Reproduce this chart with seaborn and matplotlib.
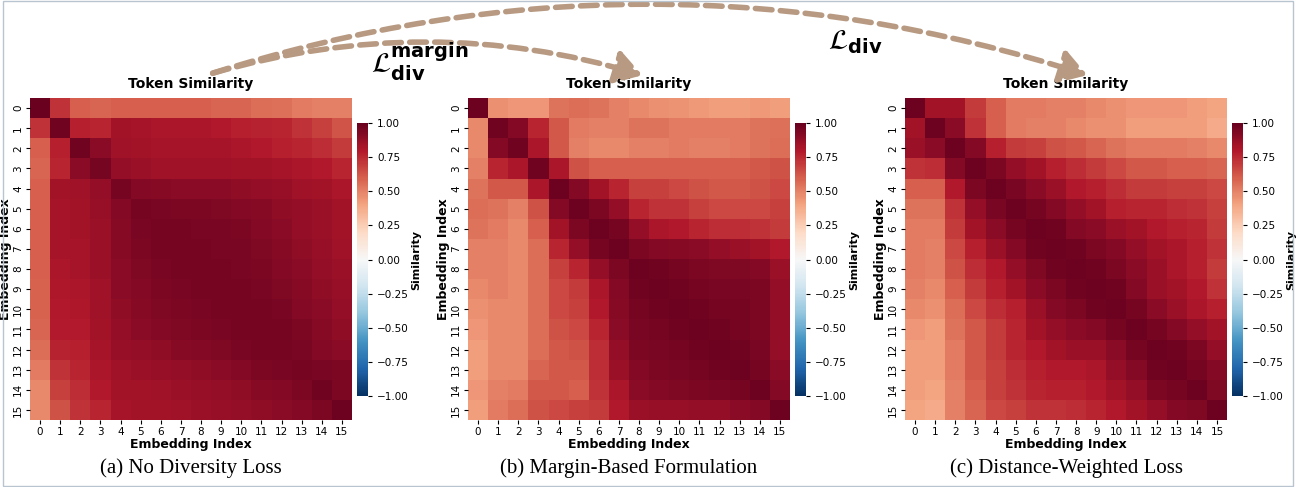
import numpy as np
import matplotlib
matplotlib.use("Agg")
import matplotlib.pyplot as plt
import seaborn as sns
from matplotlib.patches import FancyArrowPatch, Rectangle

labels = [str(i) for i in range(16)]
captions = ["(a) No Diversity Loss", "(b) Margin-Based Formulation", "(c) Distance-Weighted Loss"]

sim_none = [
[99,72,60,58,60,60,60,60,60,58,58,56,55,52,50,50],
[72,97,78,76,84,83,82,82,82,80,78,77,76,72,68,63],
[60,78,97,90,85,84,83,83,83,83,82,80,78,76,74,70],
[58,76,90,96,88,86,85,85,85,85,84,84,83,82,80,76],
[60,84,85,88,96,92,91,90,90,90,89,88,87,85,84,82],
[60,83,84,87,92,96,95,94,94,93,92,91,89,88,86,84],
[60,83,84,86,91,95,96,96,95,95,94,92,90,88,86,84],
[60,83,83,86,91,94,96,96,96,95,95,93,91,89,87,85],
[60,82,83,86,90,93,95,96,96,96,95,94,92,90,88,86],
[59,81,82,85,90,92,94,95,96,96,96,95,93,91,89,87],
[59,80,81,85,89,91,93,94,95,96,96,96,95,92,90,88],
[58,79,79,84,88,90,92,93,94,95,96,96,96,94,91,89],
[56,77,78,83,87,88,89,91,92,93,95,96,96,95,92,90],
[52,72,76,82,85,86,87,88,89,90,92,94,95,96,95,94],
[48,68,74,80,84,84,85,86,87,88,89,91,92,94,97,94],
[48,64,72,76,83,84,84,85,86,87,88,89,90,92,94,98]]

sim_margin = [
[98,46,44,44,54,56,54,50,48,46,45,43,42,42,43,42],
[48,97,92,76,62,52,50,50,54,54,52,52,52,52,54,55],
[48,92,97,82,62,50,48,48,50,50,52,50,50,52,54,56],
[50,76,82,97,82,64,60,60,60,60,60,60,60,60,62,64],
[54,62,62,82,98,92,84,76,68,68,66,64,62,62,64,66],
[56,54,50,64,92,98,94,88,76,72,72,68,66,66,66,68],
[54,52,48,60,84,94,98,96,88,82,80,76,74,74,72,70],
[50,50,48,56,76,88,96,98,94,92,91,90,88,86,84,80],
[50,50,48,56,68,76,88,94,98,97,96,94,93,93,92,86],
[48,50,48,56,66,70,82,92,97,98,97,96,95,95,94,88],
[46,48,48,56,66,68,80,91,96,97,98,97,96,96,94,88],
[44,48,48,56,64,66,76,90,95,96,97,98,97,96,94,88],
[42,48,48,56,62,64,74,88,94,95,96,97,98,97,95,88],
[42,48,48,58,62,62,74,86,92,94,95,96,97,98,96,90],
[44,50,52,62,62,60,72,82,90,92,93,94,95,96,98,92],
[42,52,56,64,66,68,70,80,86,87,87,88,88,90,92,98]]

sim_dist = [
[98,84,84,70,60,52,52,50,50,48,46,44,44,44,42,40],
[84,98,90,72,60,52,50,50,48,46,46,42,42,42,42,38],
[86,90,98,92,78,70,68,64,62,58,54,52,52,52,50,48],
[72,74,92,98,94,88,84,78,74,70,66,62,62,60,60,58],
[60,60,80,94,98,95,90,86,80,78,74,70,70,68,68,66],
[54,54,72,88,95,98,96,92,88,84,78,76,76,74,72,68],
[52,52,70,84,90,96,98,97,92,90,86,84,80,78,76,70],
[52,50,66,78,86,92,97,98,97,94,92,88,84,82,78,72],
[52,50,64,74,80,88,93,97,98,97,94,90,86,82,78,70],
[50,48,60,70,78,84,90,94,97,98,97,92,86,84,80,72],
[48,46,56,66,74,78,86,92,94,97,98,96,90,86,82,78],
[44,42,54,62,70,76,84,88,90,92,96,98,96,92,88,84],
[42,42,52,62,70,76,80,84,86,86,90,96,98,97,94,88],
[42,42,52,62,68,74,78,80,80,82,88,92,97,98,96,92],
[42,40,50,60,68,72,76,78,78,80,84,88,94,96,98,93],
[40,38,50,58,66,68,72,72,74,76,80,84,88,92,93,98]]

W, H = 1296, 487
fig = plt.figure(figsize=(W/100, H/100), dpi=100)

def box(x, y, w, h):
    return [x/W, 1-(y+h)/H, w/W, h/H]

mats = [sim_none, sim_margin, sim_dist]
xs = [30, 468, 905]
for m, x0, cap in zip(mats, xs, captions):
    ax = fig.add_axes(box(x0, 98, 322, 322))
    cax = fig.add_axes(box(x0+327, 123, 11, 273))
    data = np.array(m) / 100.0
    sns.heatmap(data, ax=ax, cbar_ax=cax, cmap="RdBu_r", vmin=-1, vmax=1,
                square=False, xticklabels=labels, yticklabels=labels)
    ax.set_title("Token Similarity", fontsize=10, fontweight="bold", pad=7)
    ax.set_xlabel("Embedding Index", fontsize=9, fontweight="bold", labelpad=1)
    ax.set_ylabel("Embedding Index", fontsize=9, fontweight="bold", labelpad=1)
    ax.tick_params(axis="both", labelsize=7.5, length=3, pad=2)
    ax.set_yticklabels(labels, rotation=90, va="center")
    cax.tick_params(labelsize=7.5, length=3)
    cax.set_yticks([-1, -0.75, -0.5, -0.25, 0, 0.25, 0.5, 0.75, 1])
    cax.set_yticklabels(["−1.00","−0.75","−0.50","−0.25","0.00","0.25","0.50","0.75","1.00"])
    cax.set_ylabel("Similarity", fontsize=8, fontweight="bold", labelpad=2)
    fig.text((x0+161)/W, 1-468/H, cap, ha="center", va="center",
             fontsize=15, family="Liberation Serif")

col = "#b89a82"
def fpt(x, y):
    return (x/W, 1-y/H)
a1 = FancyArrowPatch(fpt(210, 74), fpt(645, 76), transform=fig.transFigure,
                     connectionstyle="arc3,rad=-0.15", arrowstyle="-|>,head_length=8,head_width=5",
                     linestyle=(0, (3, 1.5)), lw=4, color=col, mutation_scale=2)
a2 = FancyArrowPatch(fpt(210, 74), fpt(1090, 76), transform=fig.transFigure,
                     connectionstyle="arc3,rad=-0.16", arrowstyle="-|>,head_length=8,head_width=5",
                     linestyle=(0, (3, 1.5)), lw=4, color=col, mutation_scale=2)
fig.patches.extend([a1, a2])
fig.text(420/W, 1-62/H, r"$\mathcal{L}_{\mathbf{div}}^{\mathbf{margin}}$", fontsize=20, ha="center", va="center")
fig.text(855/W, 1-42/H, r"$\mathcal{L}_{\mathbf{div}}$", fontsize=20, ha="center", va="center")
fig.patches.append(Rectangle((0.002, 0.003), 0.996, 0.994, transform=fig.transFigure,
                             fill=False, ec="#b8c4d0", lw=1))
fig.savefig("out.png", dpi=100)
